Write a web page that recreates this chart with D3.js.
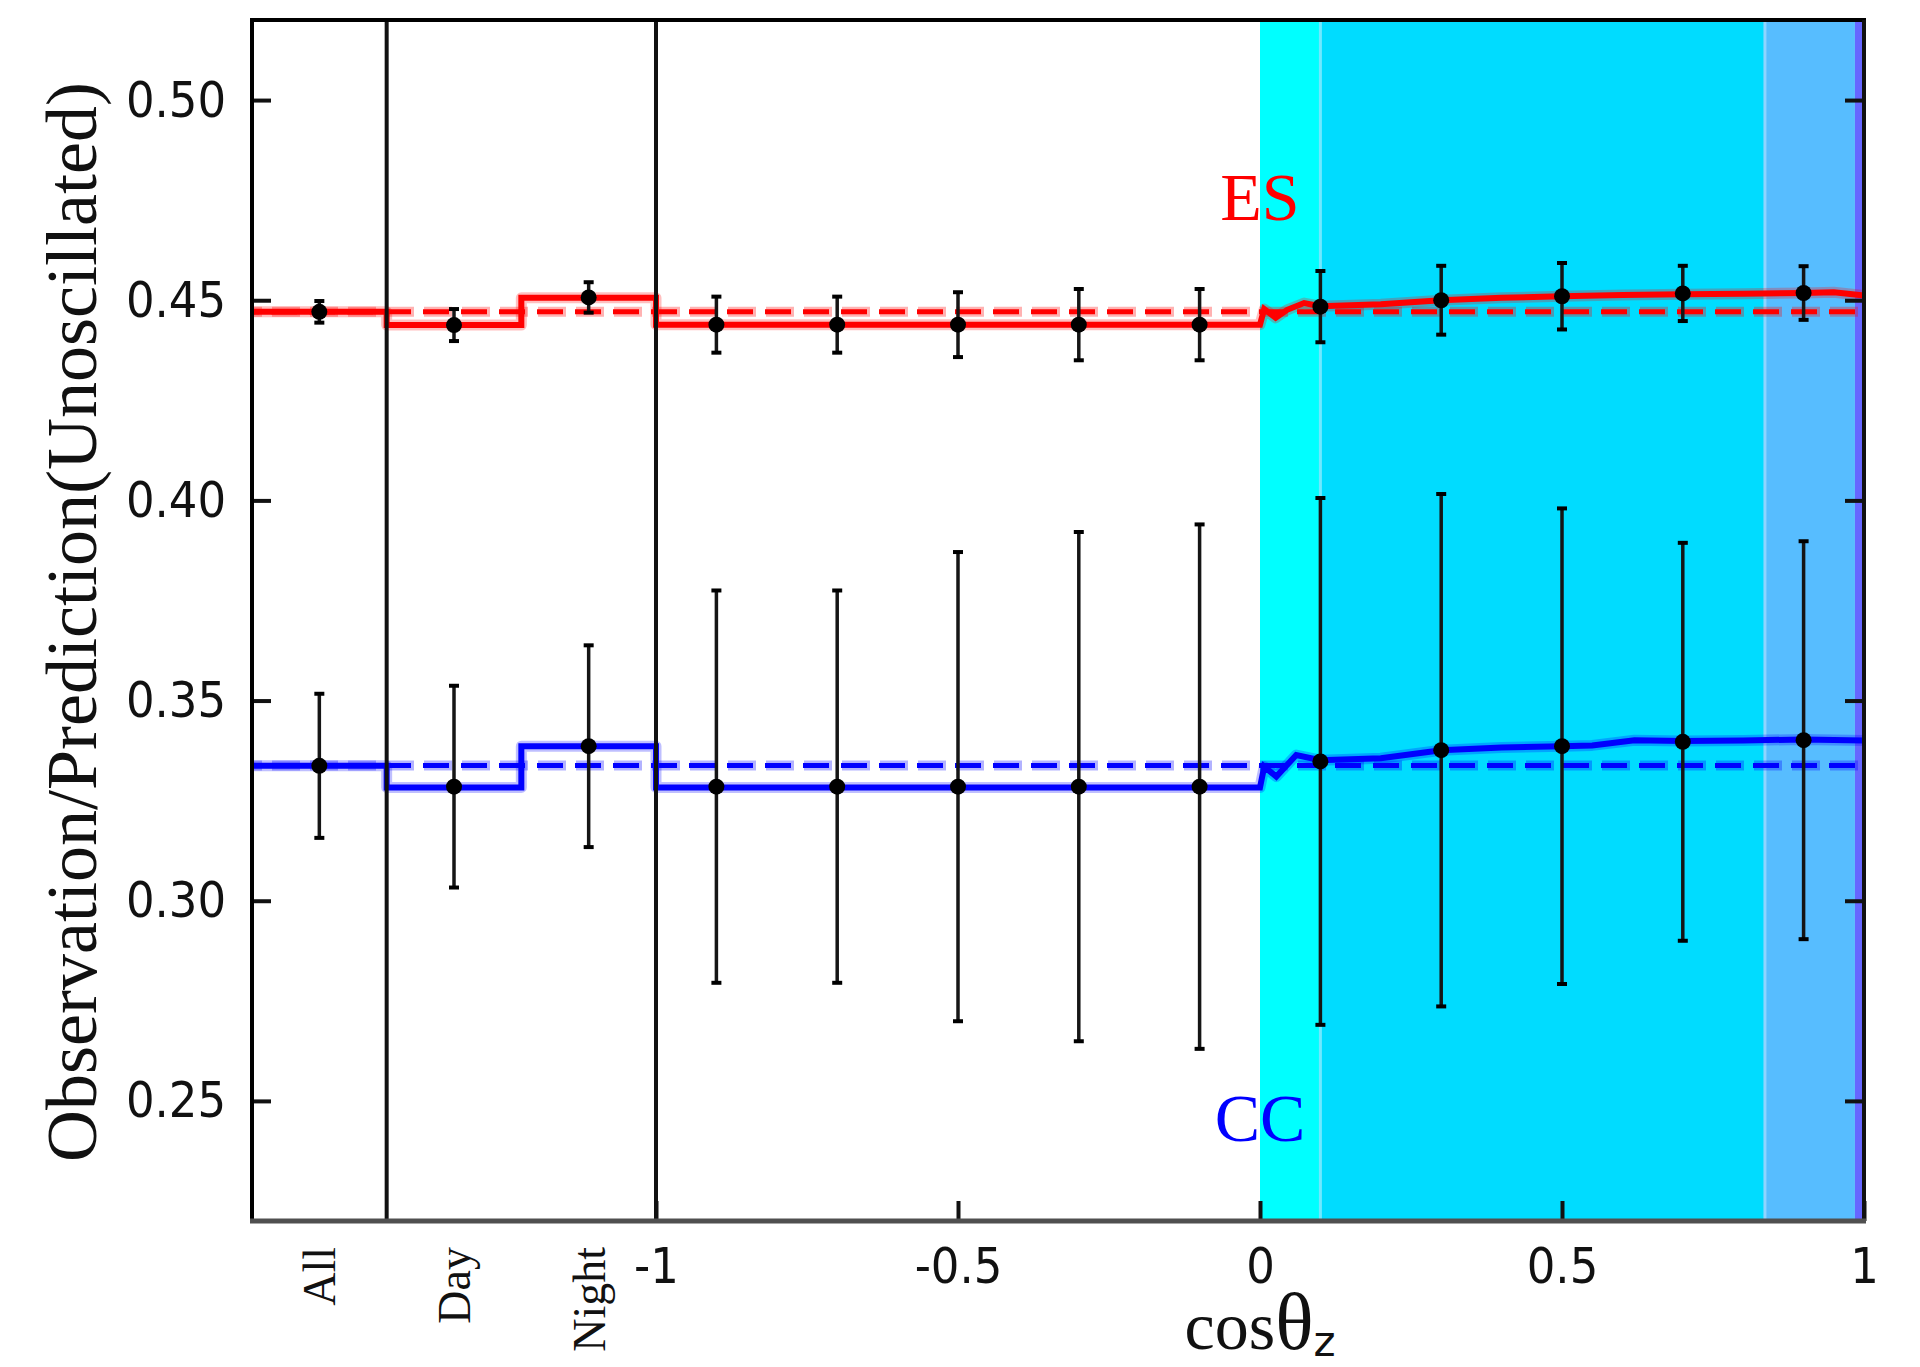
<!DOCTYPE html>
<html>
<head>
<meta charset="utf-8">
<script src="https://cdn.jsdelivr.net/npm/d3@7"></script>
<style>
  html, body { margin: 0; padding: 0; background: #fff; }
  svg { display: block; }
</style>
</head>
<body>
<script>
// side bins (left of cos axis)
const sideBins = ['All', 'Day', 'Night'];
const esSide = [0.4471, 0.4438, 0.4507];
const esSideErr = [0.0027, 0.004, 0.0038];
const ccSide = [0.3337, 0.3285, 0.3386];
const ccSideErr = [0.018, 0.0252, 0.0252];
const esSideModel = [0.4471, 0.4438, 0.4506];
const ccSideModel = [0.3337, 0.3283, 0.3386];

// cos(theta_z) bins
const cosBins = [-0.9, -0.7, -0.5, -0.3, -0.1, 0.1, 0.3, 0.5, 0.7, 0.9];
const esObs = [0.4439, 0.4439, 0.4439, 0.4439, 0.4439, 0.4484, 0.45, 0.451, 0.4517, 0.4518];
const esErr = [0.007, 0.007, 0.0081, 0.0089, 0.0089, 0.0089, 0.0086, 0.0083, 0.0069, 0.0067];
const ccObs = [0.3285, 0.3285, 0.3285, 0.3285, 0.3285, 0.3348, 0.3376, 0.3386, 0.3397, 0.3401];
const ccErr = [0.049, 0.049, 0.0586, 0.0636, 0.0655, 0.0658, 0.064, 0.0594, 0.0497, 0.0497];

// model curves vs cos(theta_z)
const esCurveCos = [-1, 0, 0.007, 0.026, 0.045, 0.073, 0.1, 0.2, 0.3, 0.4, 0.5, 0.6, 0.7, 0.8, 0.9, 0.95, 1];
const esCurveVal = [0.4439, 0.4439, 0.4478, 0.4456, 0.4476, 0.4493, 0.4485, 0.449, 0.45, 0.4506, 0.451, 0.4513, 0.4515, 0.4516, 0.4518, 0.452, 0.4512];
const ccCurveCos = [-1, 0, 0.007, 0.027, 0.06, 0.1, 0.2, 0.3, 0.4, 0.5, 0.55, 0.62, 0.7, 0.8, 0.9, 1];
const ccCurveVal = [0.3283, 0.3283, 0.3335, 0.331, 0.3364, 0.3351, 0.3356, 0.3376, 0.3383, 0.3386, 0.3388, 0.3401, 0.3399, 0.34, 0.3403, 0.34];

// average (dashed) lines
const esAverage = 0.4471;
const ccAverage = 0.3338;

// shaded regions in cos(theta_z)
const bandEdges = [0, 0.1, 0.836, 0.985, 1];
const bandColours = ['#00ffff', '#00dcff', '#57bdff', '#6666ff'];

const yTicks = [0.25, 0.3, 0.35, 0.4, 0.45, 0.5];
const xTicks = [-1, -0.5, 0, 0.5, 1];

const svgWidth = 1920;
const svgHeight = 1367;
const marginTop = 20;
const marginBottom = 146;
const marginLeft = 252;
const marginRight = 56;

const xScale = d3.scaleLinear().domain([-1, 1]).range([656, svgWidth - marginRight]);
const sideScale = d3.scaleBand().domain(sideBins).range([marginLeft, xScale(-1)]);
const yScale = d3.scaleLinear().domain([0.22, 0.52]).range([svgHeight - marginBottom, marginTop]);

const svg = d3.select('body').append('svg')
  .attr('width', svgWidth)
  .attr('height', svgHeight)
  .attr('viewBox', [0, 0, svgWidth, svgHeight]);

// shaded bands
svg.append('g')
  .selectAll('rect')
  .data(bandColours)
  .join('rect')
  .attr('x', (d, i) => xScale(bandEdges[i]))
  .attr('width', (d, i) => xScale(bandEdges[i + 1]) - xScale(bandEdges[i]))
  .attr('y', yScale(0.52))
  .attr('height', yScale(0.22) - yScale(0.52))
  .attr('fill', (d) => d);

// faint edges between bands
svg.append('g')
  .selectAll('line')
  .data([0.1, 0.836])
  .join('line')
  .attr('x1', (d) => xScale(d))
  .attr('x2', (d) => xScale(d))
  .attr('y1', yScale(0.52))
  .attr('y2', yScale(0.22))
  .attr('stroke', (d, i) => (i === 0 ? '#70e8ff' : '#8fd4ff'))
  .attr('stroke-width', 3);

// dashed average lines
function dashedLine(value, colour) {
  svg.append('line')
    .attr('x1', marginLeft).attr('x2', xScale(1))
    .attr('y1', yScale(value)).attr('y2', yScale(value))
    .attr('stroke', colour).attr('stroke-opacity', 0.3)
    .attr('stroke-width', 10).attr('stroke-dasharray', '28,10')
    .attr('stroke-dashoffset', -(xScale(-1) - marginLeft - 4));
  svg.append('line')
    .attr('x1', marginLeft).attr('x2', xScale(1))
    .attr('y1', yScale(value)).attr('y2', yScale(value))
    .attr('stroke', colour)
    .attr('stroke-width', 5).attr('stroke-dasharray', '26,12')
    .attr('stroke-dashoffset', -(xScale(-1) - marginLeft - 5));
}
dashedLine(esAverage, '#ff0000');
dashedLine(ccAverage, '#0000ff');

// model lines: steps for side bins + curve vs cos
function modelLine(sideVals, curveCos, curveVal, colour) {
  const pts = [];
  sideBins.forEach((b, i) => {
    pts.push([sideScale(b), sideVals[i]]);
    pts.push([sideScale(b) + sideScale.bandwidth(), sideVals[i]]);
  });
  curveCos.forEach((c, i) => pts.push([xScale(c), curveVal[i]]));
  const line = d3.line().x((d) => d[0]).y((d) => yScale(d[1]));
  svg.append('path').attr('d', line(pts))
    .attr('fill', 'none').attr('stroke', colour).attr('stroke-opacity', 0.25)
    .attr('stroke-width', 11).attr('stroke-linejoin', 'round');
  svg.append('path').attr('d', line(pts))
    .attr('fill', 'none').attr('stroke', colour)
    .attr('stroke-width', 6).attr('stroke-linejoin', 'miter');
}
modelLine(esSideModel, esCurveCos, esCurveVal, '#ff0000');
modelLine(ccSideModel, ccCurveCos, ccCurveVal, '#0000ff');

// data points with error bars
function dataPoints(xs, vals, errs) {
  const g = svg.append('g');
  const items = xs.map((x, i) => ({ x, v: vals[i], e: errs[i] }));
  g.selectAll('.bar').data(items).join('line')
    .attr('x1', (d) => d.x).attr('x2', (d) => d.x)
    .attr('y1', (d) => yScale(d.v - d.e)).attr('y2', (d) => yScale(d.v + d.e))
    .attr('stroke', '#151515').attr('stroke-width', 3.5);
  g.selectAll('.capTop').data(items).join('line')
    .attr('x1', (d) => d.x - 5).attr('x2', (d) => d.x + 5)
    .attr('y1', (d) => yScale(d.v + d.e)).attr('y2', (d) => yScale(d.v + d.e))
    .attr('stroke', '#000').attr('stroke-width', 4);
  g.selectAll('.capBottom').data(items).join('line')
    .attr('x1', (d) => d.x - 5).attr('x2', (d) => d.x + 5)
    .attr('y1', (d) => yScale(d.v - d.e)).attr('y2', (d) => yScale(d.v - d.e))
    .attr('stroke', '#000').attr('stroke-width', 4);
  g.selectAll('circle').data(items).join('circle')
    .attr('cx', (d) => d.x).attr('cy', (d) => yScale(d.v))
    .attr('r', 8).attr('fill', '#000');
}
const sideCentres = sideBins.map((b) => sideScale(b) + sideScale.bandwidth() / 2);
const cosCentres = cosBins.map((c) => xScale(c));
dataPoints(sideCentres, esSide, esSideErr);
dataPoints(sideCentres, ccSide, ccSideErr);
dataPoints(cosCentres, esObs, esErr);
dataPoints(cosCentres, ccObs, ccErr);

// separators
svg.append('g')
  .selectAll('line')
  .data([sideScale('Day'), xScale(-1)])
  .join('line')
  .attr('x1', (d) => d).attr('x2', (d) => d)
  .attr('y1', yScale(0.52)).attr('y2', yScale(0.22))
  .attr('stroke', '#111').attr('stroke-width', 4);

// axes
const tickFont = (g) => g
  .attr('font-family', '"DejaVu Sans", sans-serif')
  .attr('font-stretch', 'condensed')
  .attr('font-size', 50)
  .call((g) => g.select('.domain').remove())
  .call((g) => g.selectAll('.tick line').attr('stroke', '#111').attr('stroke-width', 4))
  .call((g) => g.selectAll('.tick text').attr('fill', '#111'));

svg.append('g')
  .attr('transform', `translate(${marginLeft},0)`)
  .call(d3.axisLeft(yScale).tickValues(yTicks).tickFormat(d3.format('.2f')).tickSize(-19).tickPadding(26))
  .call(tickFont);

svg.append('g')
  .attr('transform', `translate(${xScale(1)},0)`)
  .call(d3.axisRight(yScale).tickValues(yTicks).tickFormat('').tickSize(-19))
  .call(tickFont);

svg.append('g')
  .attr('transform', `translate(0,${yScale(0.22)})`)
  .call(d3.axisBottom(xScale).tickValues(xTicks).tickFormat((d) => String(d)).tickSize(-20).tickPadding(26))
  .call(tickFont);

// frame
svg.append('line').attr('x1', marginLeft - 2).attr('x2', xScale(1) + 2)
  .attr('y1', yScale(0.52)).attr('y2', yScale(0.52))
  .attr('stroke', '#000').attr('stroke-width', 4);
svg.append('line').attr('x1', marginLeft).attr('x2', marginLeft)
  .attr('y1', yScale(0.52)).attr('y2', yScale(0.22))
  .attr('stroke', '#000').attr('stroke-width', 4);
svg.append('line').attr('x1', xScale(1)).attr('x2', xScale(1))
  .attr('y1', yScale(0.52)).attr('y2', yScale(0.22))
  .attr('stroke', '#111').attr('stroke-width', 4);
svg.append('line').attr('x1', marginLeft - 2).attr('x2', xScale(1) + 2)
  .attr('y1', yScale(0.22)).attr('y2', yScale(0.22))
  .attr('stroke', '#505050').attr('stroke-width', 5);

// side bin labels
svg.append('g')
  .selectAll('text')
  .data(sideBins)
  .join('text')
  .attr('transform', (d) => `translate(${sideScale(d) + sideScale.bandwidth() / 2 + 16},${yScale(0.22) + 26}) rotate(-90)`)
  .attr('text-anchor', 'end')
  .attr('font-family', '"Liberation Serif", serif')
  .attr('font-size', 46)
  .attr('fill', '#111')
  .text((d) => d);

// axis titles
svg.append('text')
  .attr('transform', `translate(96,622) rotate(-90)`)
  .attr('text-anchor', 'middle')
  .attr('font-family', '"Liberation Serif", serif')
  .attr('font-size', 72)
  .attr('textLength', 1080)
  .attr('lengthAdjust', 'spacingAndGlyphs')
  .attr('fill', '#111')
  .text('Observation/Prediction(Unoscillated)');

const xTitle = svg.append('text')
  .attr('x', xScale(0))
  .attr('y', 1349)
  .attr('text-anchor', 'middle')
  .attr('font-family', '"Liberation Serif", serif')
  .attr('fill', '#111');
xTitle.append('tspan').attr('font-size', 68).text('cos');
xTitle.append('tspan').attr('font-size', 80).text('θ');
xTitle.append('tspan').attr('font-size', 42).attr('dy', 7)
  .attr('font-family', '"DejaVu Sans", sans-serif').text('z');

// series labels
svg.append('text')
  .attr('x', xScale(0)).attr('y', yScale(0.47))
  .attr('text-anchor', 'middle')
  .attr('font-family', '"Liberation Serif", serif')
  .attr('font-size', 68).attr('fill', '#ff0000')
  .text('ES');
svg.append('text')
  .attr('x', xScale(0)).attr('y', yScale(0.24))
  .attr('text-anchor', 'middle')
  .attr('font-family', '"Liberation Serif", serif')
  .attr('font-size', 68).attr('fill', '#0000ff')
  .text('CC');
</script>
</body>
</html>
